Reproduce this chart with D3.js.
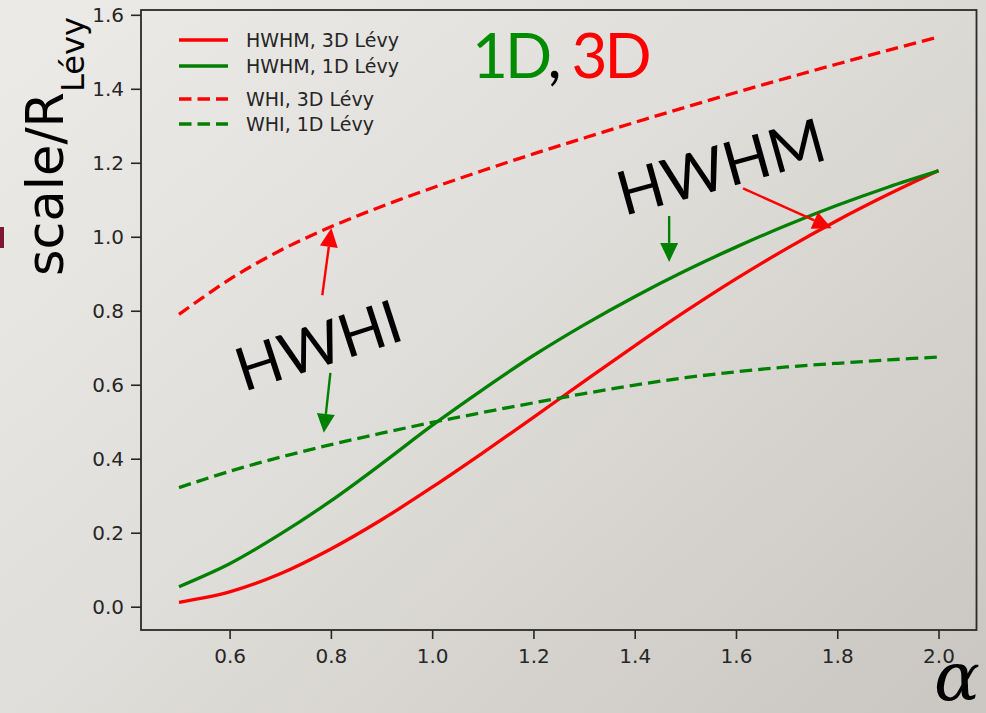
<!DOCTYPE html>
<html>
<head>
<meta charset="utf-8">
<script src="https://cdn.jsdelivr.net/npm/d3@7"></script>
<style>
  html, body { margin: 0; padding: 0; background: #dedcd8; }
  svg { display: block; }
</style>
</head>
<body>
<svg id="chart" width="986" height="713"></svg>
<script>
// values
const alpha = [0.5, 0.6, 0.7, 0.8, 0.9, 1.0, 1.1, 1.2, 1.3, 1.4, 1.5, 1.6, 1.7, 1.8, 1.9, 2.0];
const hwhm3D = [0.012, 0.040, 0.089, 0.156, 0.235, 0.323, 0.416, 0.512, 0.609, 0.705, 0.798, 0.886, 0.968, 1.044, 1.114, 1.179];
const hwhm1D = [0.054, 0.116, 0.196, 0.286, 0.386, 0.490, 0.587, 0.679, 0.762, 0.838, 0.908, 0.972, 1.031, 1.085, 1.134, 1.178];
const whi3D = [0.790, 0.885, 0.963, 1.027, 1.082, 1.132, 1.179, 1.224, 1.267, 1.309, 1.350, 1.390, 1.429, 1.467, 1.504, 1.540];
const whi1D = [0.322, 0.366, 0.404, 0.438, 0.469, 0.498, 0.525, 0.551, 0.576, 0.599, 0.619, 0.635, 0.648, 0.658, 0.667, 0.675];

const xTicks = [0.6, 0.8, 1.0, 1.2, 1.4, 1.6, 1.8, 2.0];
const yTicks = [0.0, 0.2, 0.4, 0.6, 0.8, 1.0, 1.2, 1.4, 1.6];

const seriesNames = ["HWHM, 3D Lévy", "HWHM, 1D Lévy", "WHI, 3D Lévy", "WHI, 1D Lévy"];
const seriesValues = [hwhm3D, hwhm1D, whi3D, whi1D];
const seriesColors = ["#ff0000", "#008000", "#ff0000", "#008000"];
const seriesDashed = [false, false, true, true];

// arrows: [alpha, value] tail -> head, in data coords
const arrowTails = [[0.783, 0.842], [0.799, 0.632], [1.468, 1.056], [1.614, 1.131]];
const arrowHeads = [[0.801, 1.024], [0.786, 0.470], [1.468, 0.932], [1.789, 1.023]];
const arrowColors = ["#ff0000", "#008000", "#008000", "#ff0000"];

const svg = d3.select("#chart");
const W = 986, H = 713;
const plot = { left: 141, right: 976.5, top: 10, bottom: 630 };

const defs = svg.append("defs");
const bg = defs.append("linearGradient")
  .attr("id", "bg")
  .attr("x1", 0).attr("y1", 0.1)
  .attr("x2", 1).attr("y2", 0.9);
bg.append("stop").attr("offset", 0).attr("stop-color", "#ebeae7");
bg.append("stop").attr("offset", 0.45).attr("stop-color", "#e0deda");
bg.append("stop").attr("offset", 1).attr("stop-color", "#cbc8c3");

svg.append("rect")
  .attr("width", W).attr("height", H)
  .attr("fill", "url(#bg)");

// slide decoration at the left edge
svg.append("rect")
  .attr("x", 0).attr("y", 227).attr("width", 4).attr("height", 21)
  .attr("fill", "#7e1733");

const x = d3.scaleLinear()
  .domain([0.425, 2.075])
  .range([plot.left, plot.right]);

const y = d3.scaleLinear()
  .domain([-0.063, 1.613])
  .range([plot.bottom, plot.top]);

// axes
const axisBottom = d3.axisBottom(x)
  .tickValues(xTicks)
  .tickFormat(d3.format(".1f"))
  .tickSizeInner(9)
  .tickSizeOuter(0)
  .tickPadding(10);

const axisLeft = d3.axisLeft(y)
  .tickValues(yTicks)
  .tickFormat(d3.format(".1f"))
  .tickSizeInner(10)
  .tickSizeOuter(0)
  .tickPadding(7);

const gx = svg.append("g")
  .attr("transform", `translate(0, ${ plot.bottom })`)
  .call(axisBottom);

const gy = svg.append("g")
  .attr("transform", `translate(${ plot.left }, 0)`)
  .call(axisLeft);

[gx, gy].forEach(g => {
  g.select(".domain").remove();
  g.selectAll(".tick line").attr("stroke", "#262626").attr("stroke-width", 1.6);
  g.selectAll(".tick text")
    .attr("fill", "#262626")
    .attr("font-family", "DejaVu Sans")
    .attr("font-size", 20);
});

// frame
svg.append("rect")
  .attr("x", plot.left).attr("y", plot.top)
  .attr("width", plot.right - plot.left)
  .attr("height", plot.bottom - plot.top)
  .attr("fill", "none")
  .attr("stroke", "#2a2a2a")
  .attr("stroke-width", 1.8);

// curves
const line = d3.line()
  .x(d => x(d[0]))
  .y(d => y(d[1]))
  .curve(d3.curveCatmullRom.alpha(0.5));

svg.append("g")
  .selectAll("path.curve")
  .data(seriesValues.map((vals, i) => ({ i, pts: alpha.map((a, k) => [a, vals[k]]) })))
  .join("path")
    .attr("class", "curve")
    .attr("d", d => line(d.pts))
    .attr("fill", "none")
    .attr("stroke", d => seriesColors[d.i])
    .attr("stroke-width", 3.3)
    .attr("stroke-dasharray", d => seriesDashed[d.i] ? "12.5,6" : null);

// legend
const legendRows = [40, 66, 99, 124];
const legend = svg.append("g");
legend.selectAll("line")
  .data(seriesNames)
  .join("line")
    .attr("x1", 179).attr("x2", 228)
    .attr("y1", (d, i) => legendRows[i])
    .attr("y2", (d, i) => legendRows[i])
    .attr("stroke", (d, i) => seriesColors[i])
    .attr("stroke-width", 3.3)
    .attr("stroke-dasharray", (d, i) => seriesDashed[i] ? "12.5,6" : null);
legend.selectAll("text")
  .data(seriesNames)
  .join("text")
    .attr("x", 246)
    .attr("y", (d, i) => legendRows[i] + 7)
    .attr("font-family", "DejaVu Sans")
    .attr("font-size", 19)
    .attr("fill", "#262626")
    .text(d => d);

// arrows
const arrows = svg.append("g");
arrowTails.forEach((t, i) => {
  const x0 = x(t[0]), y0 = y(t[1]);
  const x1 = x(arrowHeads[i][0]), y1 = y(arrowHeads[i][1]);
  const ang = Math.atan2(y1 - y0, x1 - x0);
  const hl = 19, hw = 9;
  const bx = x1 - hl * Math.cos(ang), by = y1 - hl * Math.sin(ang);
  arrows.append("line")
    .attr("x1", x0).attr("y1", y0)
    .attr("x2", bx).attr("y2", by)
    .attr("stroke", arrowColors[i])
    .attr("stroke-width", 2.4);
  arrows.append("path")
    .attr("d", `M${ x1 },${ y1 }L${ bx - hw * Math.sin(ang) },${ by + hw * Math.cos(ang) }L${ bx + hw * Math.sin(ang) },${ by - hw * Math.cos(ang) }Z`)
    .attr("fill", arrowColors[i]);
});

// big annotations
svg.append("text")
  .attr("transform", `translate(${ x(0.775) }, ${ y(0.707) }) rotate(-18)`)
  .attr("text-anchor", "middle")
  .attr("dy", "0.36em")
  .attr("font-family", "Lato")
  .attr("font-size", 60)
  .attr("fill", "#000")
  .text("HWHI");

svg.append("text")
  .attr("transform", `translate(${ x(1.57) }, ${ y(1.19) }) rotate(-15.5)`)
  .attr("text-anchor", "middle")
  .attr("dy", "0.36em")
  .attr("font-family", "Lato")
  .attr("font-size", 61)
  .attr("fill", "#000")
  .text("HWHM");

const dimText = svg.append("text")
  .attr("x", 472)
  .attr("y", 78)
  .attr("font-family", "Lato")
  .attr("font-size", 62)
  .attr("letter-spacing", -3);
dimText.append("tspan").attr("fill", "#008c00").text("1D");
dimText.append("tspan").attr("fill", "#000").text(", ");
dimText.append("tspan").attr("fill", "#ff0000").text("3D");

// axis titles
const ylab = svg.append("text")
  .attr("transform", "translate(63, 276) rotate(-90)")
  .attr("font-family", "DejaVu Sans")
  .attr("font-size", 51)
  .attr("fill", "#000");
ylab.append("tspan").text("scale/R");
ylab.append("tspan").attr("font-size", 32).attr("dy", 21).text("Lévy");

svg.append("text")
  .attr("x", 957)
  .attr("y", 700)
  .attr("text-anchor", "middle")
  .attr("font-family", "DejaVu Serif")
  .attr("font-style", "italic")
  .attr("font-size", 68)
  .attr("fill", "#000")
  .text("α");
</script>
</body>
</html>
